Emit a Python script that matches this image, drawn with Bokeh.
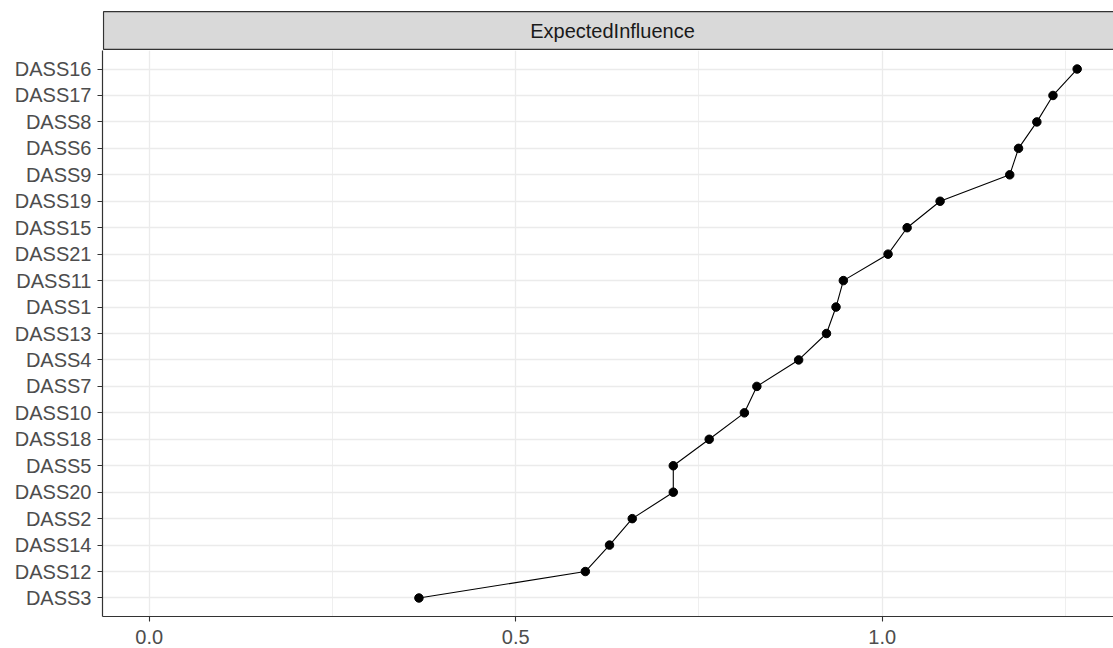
from bokeh.plotting import figure
from bokeh.models import Range1d, FactorRange, FixedTicker
from bokeh.layouts import column
from bokeh.embed import file_html
from bokeh.resources import INLINE
from bokeh.core.properties import value

# ---- data ----
items = ["DASS16", "DASS17", "DASS8", "DASS6", "DASS9", "DASS19", "DASS15",
         "DASS21", "DASS11", "DASS1", "DASS13", "DASS4", "DASS7", "DASS10",
         "DASS18", "DASS5", "DASS20", "DASS2", "DASS14", "DASS12", "DASS3"]
expected_influence = [1.266, 1.233, 1.211, 1.186, 1.174, 1.079, 1.034,
                      1.008, 0.947, 0.937, 0.924, 0.886, 0.829, 0.812,
                      0.764, 0.715, 0.715, 0.659, 0.628, 0.595, 0.368]
strip_label = "ExpectedInfluence"
x_major_ticks = [0.0, 0.5, 1.0]
x_tick_labels = {0.0: "0.0", 0.5: "0.5", 1.0: "1.0"}
x_minor_ticks = [0.25, 0.75, 1.25]

# ---- layout constants ----
W = 1113
LEFT = 102
X0 = -0.0637
PX_PER_UNIT = 733.0
FRAME_W = W - LEFT
X1 = X0 + FRAME_W / PX_PER_UNIT
STRIP_H = 50
MAIN_H = 596
FONT = "Liberation Sans"
TXT = "#4D4D4D"
DARK = "#333333"
GRID = "#EBEBEB"

x_range = Range1d(X0, X1)
y_range = FactorRange(factors=list(reversed(items)), range_padding=0.2,
                      range_padding_units="absolute")

# ---- strip (facet label) ----
strip = figure(width=W, height=STRIP_H, x_range=x_range,
               y_range=Range1d(-0.03, 1.03),
               output_backend="svg", toolbar_location=None,
               x_axis_location=None, y_axis_location=None,
               min_border_left=LEFT, min_border_right=0,
               min_border_top=10, min_border_bottom=0)
strip.grid.visible = False
strip.outline_line_color = None
strip.background_fill_color = "white"
strip.border_fill_color = "white"
strip.quad(left=X0 + 1.0 / PX_PER_UNIT, right=X1 + 1.0, bottom=0, top=1,
           fill_color="#D9D9D9", line_color=DARK, line_width=1.2)
strip.text(x=[X0 + 510 / PX_PER_UNIT], y=[0.5], text=[strip_label],
           text_align="center", text_baseline="middle",
           text_font=value(FONT), text_font_size="20px", text_color="#1A1A1A")

# ---- main panel ----
p = figure(width=W, height=MAIN_H, x_range=x_range, y_range=y_range,
           output_backend="svg", toolbar_location=None,
           min_border_left=LEFT, min_border_right=0,
           min_border_top=0, min_border_bottom=0)
p.outline_line_color = None
p.background_fill_color = "white"
p.border_fill_color = "white"

ticker = FixedTicker(ticks=x_major_ticks, minor_ticks=x_minor_ticks)
p.xaxis.ticker = ticker
p.xaxis.major_label_overrides = x_tick_labels
p.xgrid.ticker = ticker
p.xgrid.grid_line_color = GRID
p.xgrid.grid_line_width = 1.3
p.xgrid.minor_grid_line_color = GRID
p.xgrid.minor_grid_line_width = 0.8
p.ygrid.grid_line_color = GRID
p.ygrid.grid_line_width = 1.3

for ax in (p.xaxis, p.yaxis):
    ax.axis_line_color = DARK
    ax.axis_line_width = 1.2
    ax.major_tick_line_color = DARK
    ax.major_tick_line_width = 1.1
    ax.major_tick_in = 0
    ax.major_tick_out = 5
    ax.minor_tick_in = 0
    ax.minor_tick_out = 0
    ax.major_label_text_font = FONT
    ax.major_label_text_font_size = "20px"
    ax.major_label_text_color = TXT
p.xaxis.major_label_standoff = 8
p.yaxis.major_label_standoff = 6

p.line(x=expected_influence, y=items, line_color="black", line_width=1.1)
p.scatter(x=expected_influence, y=items, size=8.5, fill_color="black",
          line_color="black")

layout = column(strip, p, spacing=0)
open("out.html", "w").write(file_html(layout, INLINE))
